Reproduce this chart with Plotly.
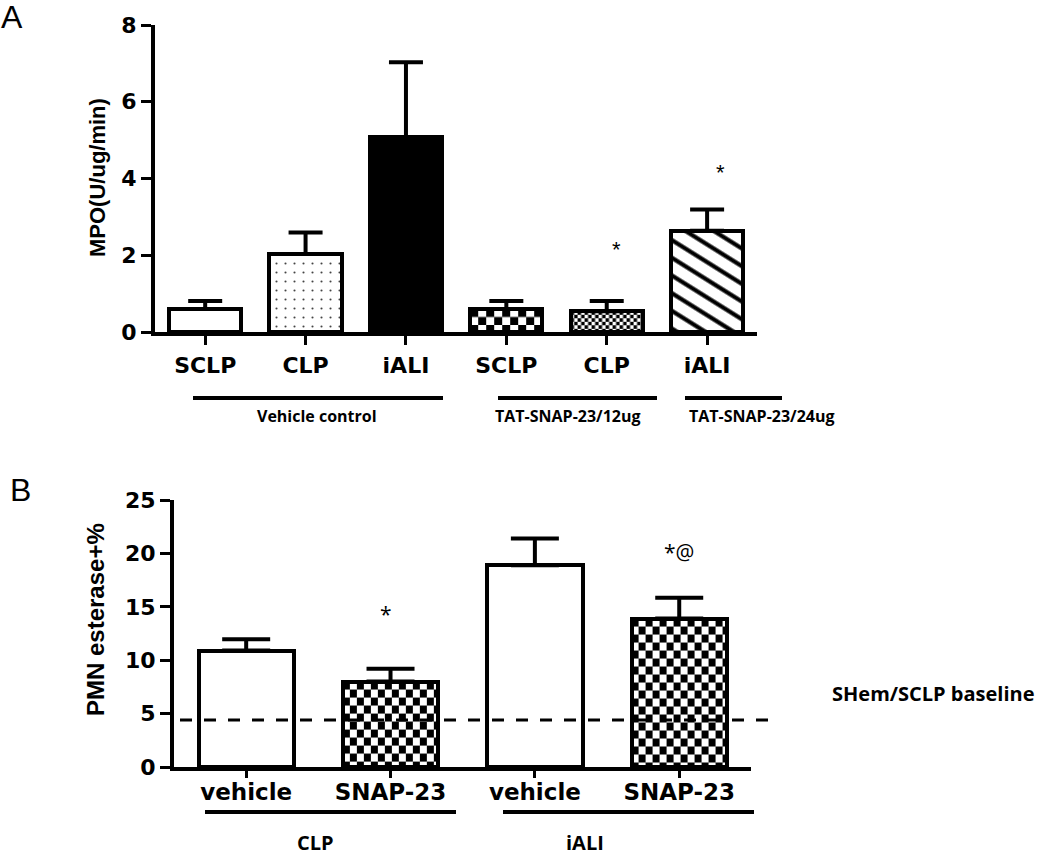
import base64
import plotly.graph_objects as go

# ---------------- data ----------------
a_categories = ["SCLP", "CLP", "iALI", "SCLP", "CLP", "iALI"]
a_values = [0.60, 2.03, 5.08, 0.60, 0.54, 2.64]
a_err_plus = [0.21, 0.56, 1.95, 0.21, 0.27, 0.55]
a_yticks = [0, 2, 4, 6, 8]
a_groups = ["Vehicle control", "TAT-SNAP-23/12ug", "TAT-SNAP-23/24ug"]
a_marks = ["*", "*"]          # significance marks on bars 5 and 6

b_categories = ["vehicle", "SNAP-23", "vehicle", "SNAP-23"]
b_values = [10.9, 8.0, 18.9, 13.9]
b_err_plus = [1.05, 1.2, 2.5, 1.95]
b_yticks = [0, 5, 10, 15, 20, 25]
b_groups = ["CLP", "iALI"]
b_marks = ["*", "*@"]         # significance marks on bars 2 and 4
b_baseline = 4.4
b_baseline_label = "SHem/SCLP baseline"

# ---------------- layout helpers ----------------
W, H = 1050, 857


def px(x):
    return x / W


def py(y):
    return 1 - y / H


# pixel frames of the two panels
A_L, A_R, A_T, A_B = 155.0, 757.3, 25.0, 332.0
B_L, B_R, B_T, B_B = 174.0, 751.4, 500.0, 767.0
A_RANGE_X = [-0.5, 5.5]
A_RANGE_Y = [0, 8]
B_RANGE_X = [-0.5, 3.5]
B_RANGE_Y = [0, 25]
A_BW = 0.72
B_BW = 0.66


def svg_uri(wpx, hpx, pattern_body, pw, ph, transform=""):
    svg = (
        f'<svg xmlns="http://www.w3.org/2000/svg" width="{wpx:.1f}" height="{hpx:.1f}" '
        f'viewBox="0 0 {wpx:.1f} {hpx:.1f}" preserveAspectRatio="none">'
        f'<defs><pattern id="c" width="{pw}" height="{ph}" patternUnits="userSpaceOnUse" '
        f'{transform}>{pattern_body}</pattern></defs>'
        f'<rect width="100%" height="100%" fill="url(#c)"/></svg>'
    )
    return "data:image/svg+xml;base64," + base64.b64encode(svg.encode()).decode()


def checker_uri(wpx, hpx, cw, ch):
    body = (f'<rect width="{2*cw}" height="{2*ch}" fill="#fff"/>'
            f'<rect width="{cw}" height="{ch}" fill="#000"/>'
            f'<rect x="{cw}" y="{ch}" width="{cw}" height="{ch}" fill="#000"/>')
    return svg_uri(wpx, hpx, body, 2 * cw, 2 * ch)


def hatch_uri(wpx, hpx, period, lw, angle):
    body = (f'<rect width="{period}" height="{period}" fill="#fff"/>'
            f'<rect y="{(period - lw) / 2}" width="{period}" height="{lw}" fill="#000"/>')
    return svg_uri(wpx, hpx, body, period, period,
                   transform=f'patternTransform="rotate({angle})"')


a_xscale = (A_R - A_L) / (A_RANGE_X[1] - A_RANGE_X[0])
a_yscale = (A_B - A_T) / (A_RANGE_Y[1] - A_RANGE_Y[0])
b_xscale = (B_R - B_L) / (B_RANGE_X[1] - B_RANGE_X[0])
b_yscale = (B_B - B_T) / (B_RANGE_Y[1] - B_RANGE_Y[0])

a_x = list(range(len(a_categories)))
b_x = list(range(len(b_categories)))

fig = go.Figure()

# Panel A bars
a_fill = ["white", "white", "black", "rgba(0,0,0,0)", "rgba(0,0,0,0)", "rgba(0,0,0,0)"]
a_shape = ["", ".", "", "", "", ""]
a_psize = [8, 9, 8, 8, 8, 8]
a_solid = [0.3, 0.045, 0.3, 0.3, 0.3, 0.3]
fig.add_trace(go.Bar(
    x=a_x, y=a_values, width=A_BW, xaxis="x", yaxis="y",
    marker=dict(color=a_fill, line=dict(color="black", width=4),
                pattern=dict(shape=a_shape, size=a_psize, solidity=a_solid,
                             fgcolor="black", fgopacity=1, bgcolor=a_fill, fillmode="overlay")),
    error_y=dict(type="data", symmetric=False, array=a_err_plus,
                 arrayminus=[0] * len(a_values), color="black", thickness=4, width=17),
    showlegend=False, hoverinfo="skip",
))

# Panel B bars
b_fill = ["white", "rgba(0,0,0,0)", "white", "rgba(0,0,0,0)"]
fig.add_trace(go.Bar(
    x=b_x, y=b_values, width=B_BW, xaxis="x2", yaxis="y2",
    marker=dict(color=b_fill, line=dict(color="black", width=4)),
    error_y=dict(type="data", symmetric=False, array=b_err_plus,
                 arrayminus=[0] * len(b_values), color="black", thickness=4, width=24),
    showlegend=False, hoverinfo="skip",
))

# checkerboard / hatch fills (images below the transparent bars)
images = []


def bar_image(uri, xref, yref, xc, val, bw):
    return dict(source=uri, xref=xref, yref=yref, x=xc - bw / 2, y=val,
                sizex=bw, sizey=val, sizing="stretch",
                xanchor="left", yanchor="top", layer="below")


for i, cell in [(3, (8, 8)), (4, (3.5, 3.5))]:
    images.append(bar_image(checker_uri(A_BW * a_xscale, a_values[i] * a_yscale, *cell),
                            "x", "y", a_x[i], a_values[i], A_BW))
images.append(bar_image(hatch_uri(A_BW * a_xscale, a_values[5] * a_yscale, 15, 4.2, 32),
                        "x", "y", a_x[5], a_values[5], A_BW))
for i in [1, 3]:
    images.append(bar_image(checker_uri(B_BW * b_xscale, b_values[i] * b_yscale, 7, 8),
                            "x2", "y2", b_x[i], b_values[i], B_BW))

tick_font_a = dict(family="DejaVu Sans", size=22, color="black", weight="bold")
tick_font_b = dict(family="DejaVu Sans", size=23, color="black", weight="bold")
ytick_font = dict(family="DejaVu Sans", size=22, color="black", weight="bold")

common = dict(showline=True, linecolor="black", linewidth=4, ticks="outside",
              tickcolor="black", tickwidth=3, showgrid=False, zeroline=False,
              fixedrange=True)

label_font = dict(family="Open Sans", size=16, color="black", weight="bold")
title_font = dict(family="Liberation Sans", size=22, color="black", weight="bold")
mark_font = dict(family="Liberation Sans", size=22, color="black")

shapes = []
annotations = []

# group lines & labels, panel A
a_group_lines = [(193, 443), (498, 657), (685, 782)]
a_group_label_x = [317, 568, 762]
for (x0, x1), lx, txt in zip(a_group_lines, a_group_label_x, a_groups):
    shapes.append(dict(type="line", xref="paper", yref="paper", x0=px(x0), x1=px(x1),
                       y0=py(398), y1=py(398), line=dict(color="black", width=4)))
    annotations.append(dict(text=txt, xref="paper", yref="paper", x=px(lx), y=py(416),
                            showarrow=False, font=label_font, xanchor="center", yanchor="middle"))

# group lines & labels, panel B
b_group_lines = [(205, 456), (503, 754)]
b_group_label_x = [315, 585]
for (x0, x1), lx, txt in zip(b_group_lines, b_group_label_x, b_groups):
    shapes.append(dict(type="line", xref="paper", yref="paper", x0=px(x0), x1=px(x1),
                       y0=py(812), y1=py(812), line=dict(color="black", width=4)))
    annotations.append(dict(text=txt, xref="paper", yref="paper", x=px(lx), y=py(842),
                            showarrow=False, borderpad=0,
                            font=dict(family="Open Sans", size=20, color="black", weight="bold"),
                            xanchor="center", yanchor="middle"))

# baseline
shapes.append(dict(type="line", xref="paper", yref="y2", x0=px(180), x1=px(775),
                   y0=b_baseline, y1=b_baseline, layer="above",
                   line=dict(color="black", width=3, dash="12px,12px")))
annotations.append(dict(text=b_baseline_label, xref="paper", yref="paper", x=px(830), y=py(693),
                        showarrow=False, font=dict(family="Open Sans", size=20, color="black", weight="bold"),
                        xanchor="left", yanchor="middle"))

# significance marks
for (xi, yv), m in zip([(4.1, 2.15), (5.13, 4.15)], a_marks):
    annotations.append(dict(text=m, xref="x", yref="y", x=xi, y=yv, showarrow=False,
                            font=mark_font, xanchor="center", yanchor="middle"))
for (xi, yv), m in zip([(0.97, 14.3), (3.0, 20.1)], b_marks):
    annotations.append(dict(text=m, xref="x2", yref="y2", x=xi, y=yv, showarrow=False,
                            font=dict(family="Open Sans", size=21, color="black"),
                            xanchor="center", yanchor="middle"))

# axis titles
annotations.append(dict(text="MPO(U/ug/min)", xref="paper", yref="paper", x=px(98), y=py(178),
                        textangle=-90, showarrow=False, font=title_font,
                        xanchor="center", yanchor="middle"))
annotations.append(dict(text="PMN esterase+%", xref="paper", yref="paper", x=px(95), y=py(620),
                        textangle=-90, showarrow=False,
                        font=dict(family="Liberation Sans", size=24, color="black", weight="bold"),
                        xanchor="center", yanchor="middle"))

# panel letters
for letter, (lx, ly) in zip(["A", "B"], [(12, 17), (20, 490)]):
    annotations.append(dict(text=letter, xref="paper", yref="paper", x=px(lx), y=py(ly),
                            showarrow=False, font=dict(family="Liberation Sans", size=32, color="black"),
                            xanchor="center", yanchor="middle"))

fig.update_layout(
    width=W, height=H, margin=dict(l=0, r=0, t=0, b=0),
    paper_bgcolor="white", plot_bgcolor="rgba(0,0,0,0)",
    template="none", bargap=0, showlegend=False,
    xaxis=dict(domain=[px(A_L), px(A_R)], range=A_RANGE_X, anchor="y",
               tickvals=a_x, ticktext=a_categories, ticklen=9, tickfont=tick_font_a,
               ticklabelstandoff=2, **common),
    yaxis=dict(domain=[py(A_B), py(A_T)], range=A_RANGE_Y, anchor="x",
               tickvals=a_yticks, ticklen=10, tickfont=ytick_font, **common),
    xaxis2=dict(domain=[px(B_L), px(B_R)], range=B_RANGE_X, anchor="y2",
                tickvals=b_x, ticktext=b_categories, ticklen=7, tickfont=tick_font_b,
                ticklabelstandoff=-6, **common),
    yaxis2=dict(domain=[py(B_B), py(B_T)], range=B_RANGE_Y, anchor="x2",
                tickvals=b_yticks, ticklen=10, tickfont=ytick_font, **common),
    shapes=shapes, annotations=annotations, images=images,
)

fig.write_html("out.html", config={"displayModeBar": False},
               post_script="document.body.style.margin='0';")
